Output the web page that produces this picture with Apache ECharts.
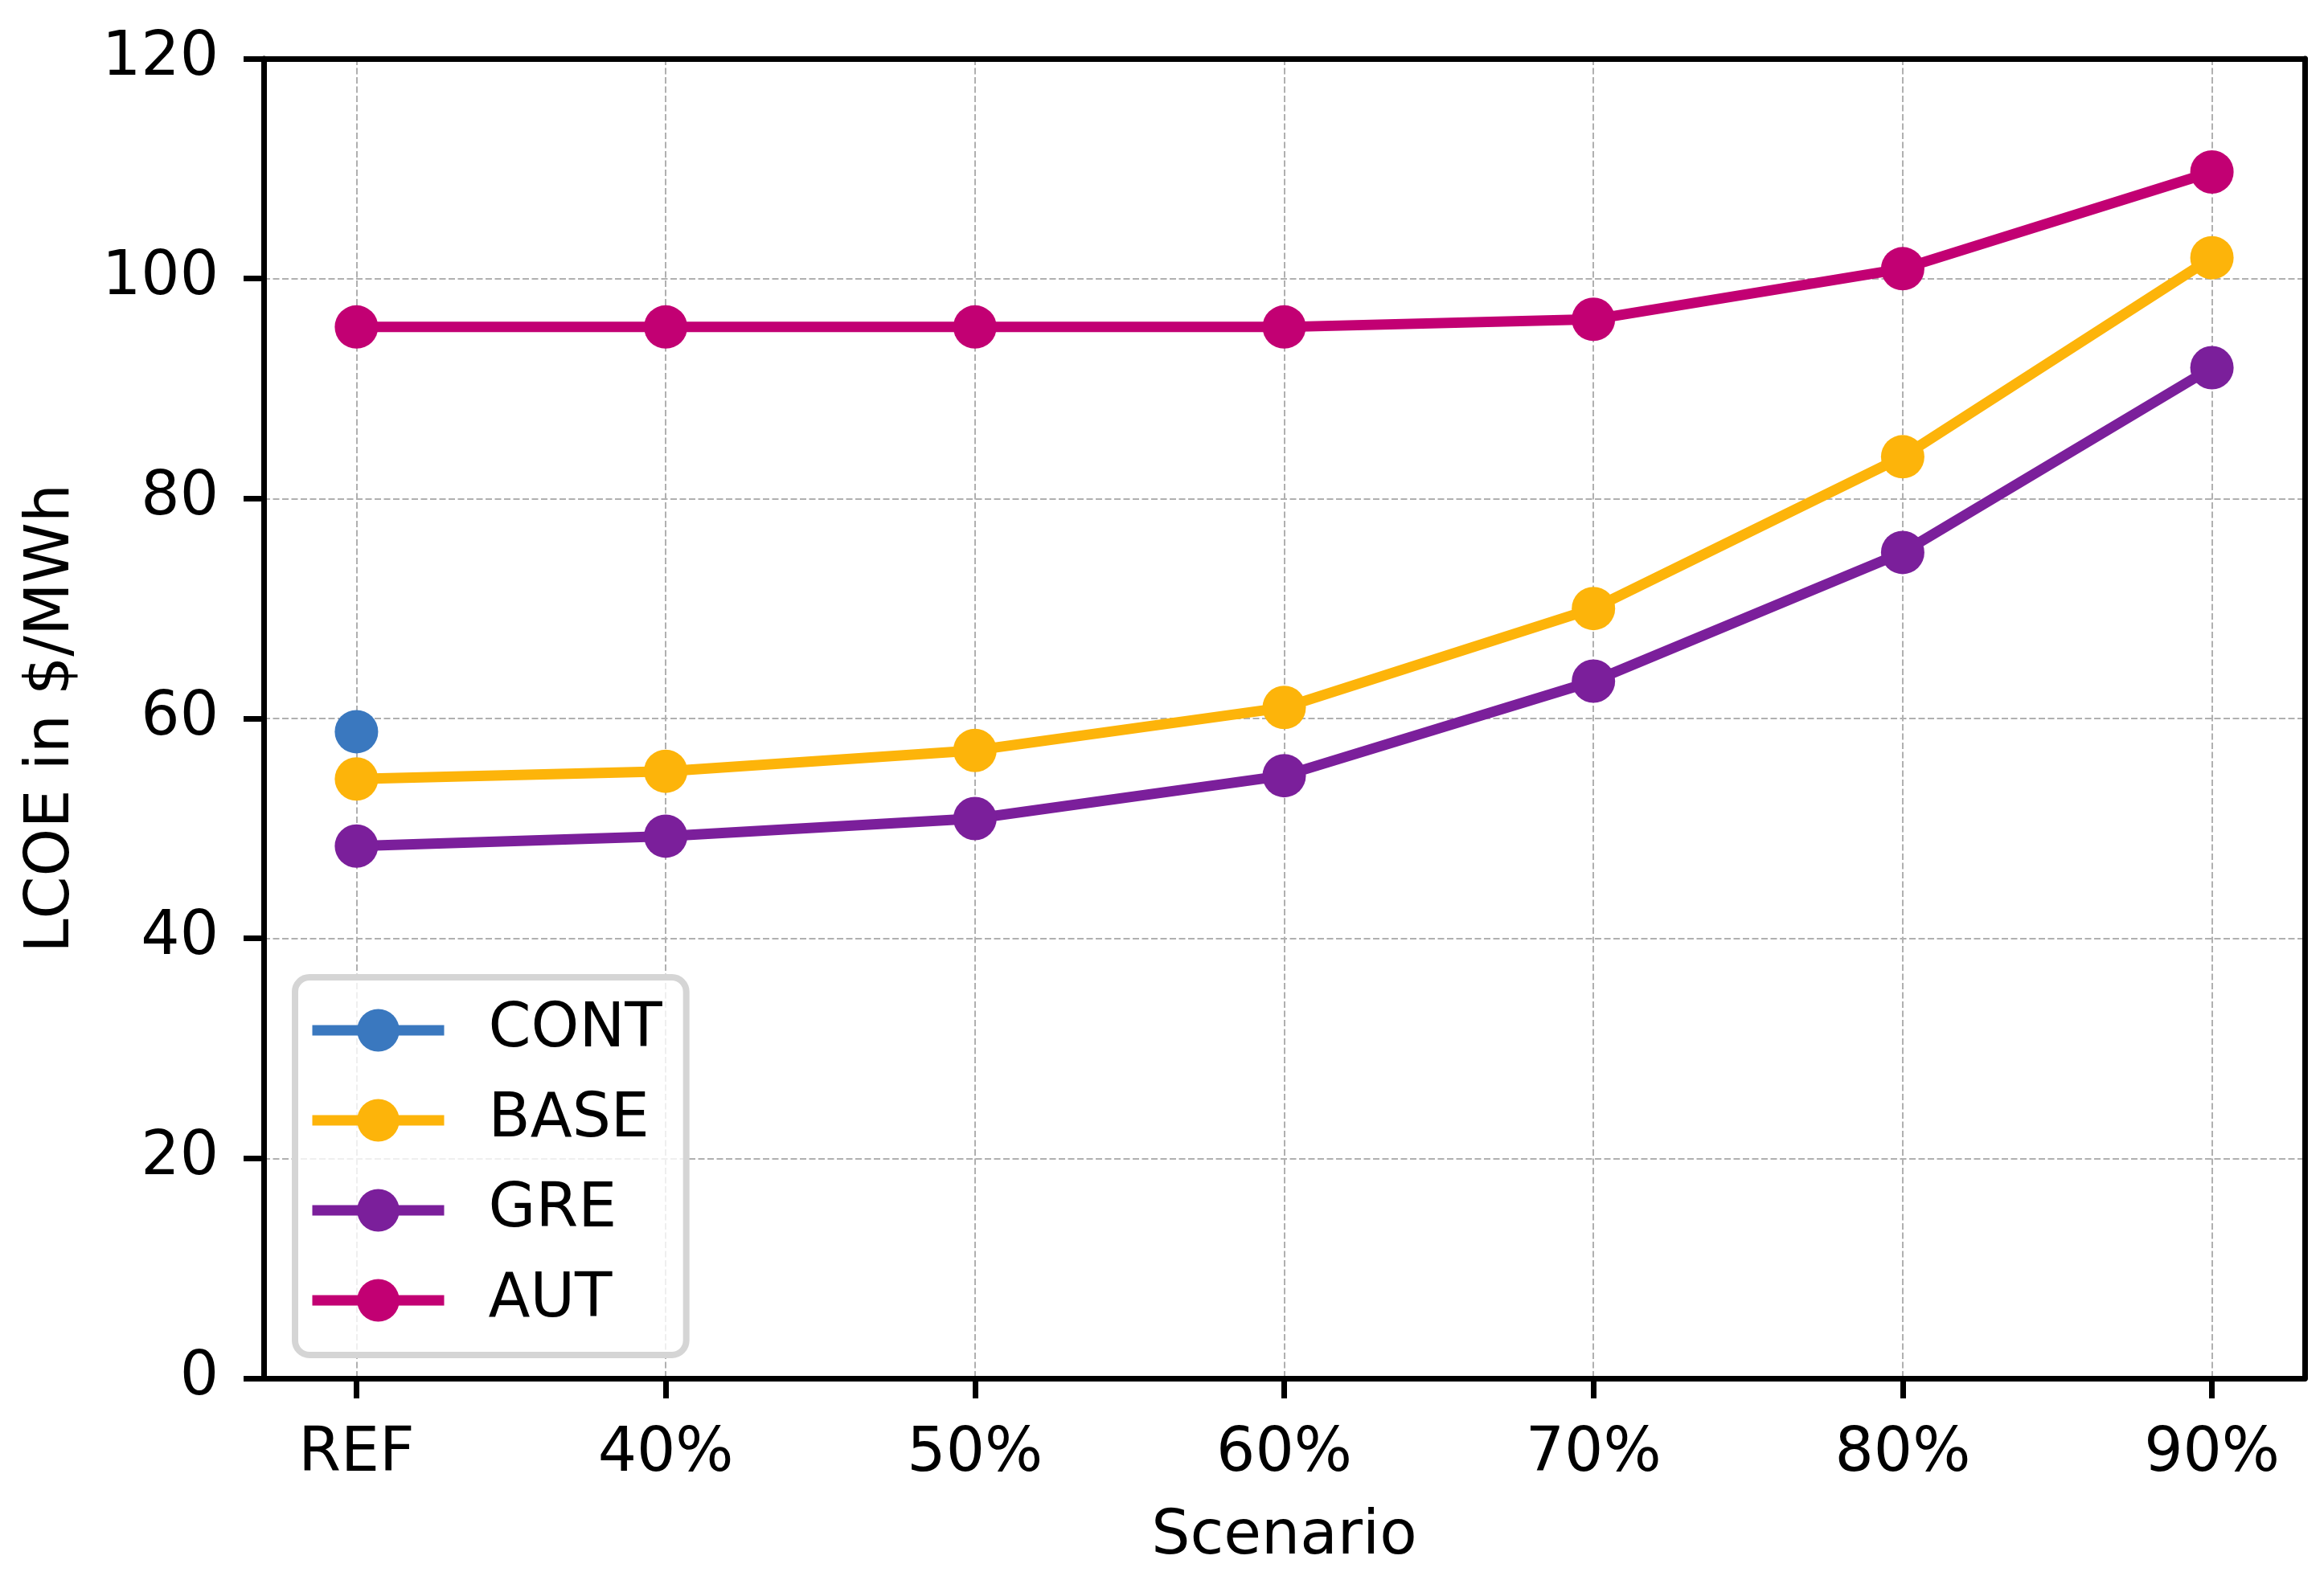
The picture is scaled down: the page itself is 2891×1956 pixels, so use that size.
<!DOCTYPE html>
<html>
<head>
<meta charset="utf-8">
<script src="https://cdn.jsdelivr.net/npm/echarts@6/dist/echarts.min.js"></script>
<style>
html,body{margin:0;padding:0;background:#fff;}
#chart{width:2891px;height:1956px;}
</style>
</head>
<body>
<div id="chart"></div>
<script>
const categories = ['REF', '40%', '50%', '60%', '70%', '80%', '90%'];
const yTicks = [0, 20, 40, 60, 80, 100, 120];
const seriesNames = ['CONT', 'BASE', 'GRE', 'AUT'];
const seriesColors = ['#3a78bf', '#fdb40a', '#7b1f9b', '#c20073'];
const contValues = [58.8, null, null, null, null, null, null];
const baseValues = [54.5, 55.2, 57.1, 61.0, 70.0, 83.8, 101.9];
const greValues = [48.4, 49.3, 50.9, 54.8, 63.4, 75.1, 91.9];
const autValues = [95.6, 95.6, 95.6, 95.6, 96.3, 100.9, 109.7];

const allValues = [contValues, baseValues, greValues, autValues];
const catIdx = categories.map((c, i) => i);
const FONT = 'DejaVu Sans';
const FS = 76;

function toPairs(vals) {
  return vals.map((v, i) => (v === null ? null : [i, v])).filter(p => p !== null);
}

const chart = echarts.init(document.getElementById('chart'), null, {renderer: 'canvas'});
const spine = {show: true, onZero: false, lineStyle: {color: '#000', width: 7}};
const grid = {type: [8, 3.5], color: '#b0b0b0', width: 2};

chart.setOption({
  backgroundColor: '#fff',
  animation: false,
  grid: {left: 328, right: 24, top: 73, bottom: 232, containLabel: false},
  legend: {
    data: seriesNames,
    orient: 'vertical',
    left: 367,
    top: 1216,
    itemWidth: 164,
    itemHeight: 66,
    itemGap: 36,
    padding: [28, 30, 30, 15],
    backgroundColor: 'rgba(255,255,255,0.8)',
    borderColor: '#d5d5d5',
    borderWidth: 8,
    borderRadius: 18,
    lineStyle: {width: 13},
    textStyle: {fontFamily: FONT, fontSize: FS, color: '#000', padding: [0, 0, 0, 50]}
  },
  xAxis: [{
    type: 'value',
    min: -0.3,
    max: 6.3,
    name: 'Scenario',
    nameLocation: 'middle',
    nameGap: 160,
    nameTextStyle: {fontFamily: FONT, fontSize: FS, color: '#000'},
    axisLine: spine,
    axisTick: {show: true, customValues: catIdx, length: 25, lineStyle: {color: '#000', width: 7}},
    axisLabel: {customValues: catIdx, formatter: v => categories[Math.round(v)], fontFamily: FONT, fontSize: FS, color: '#000', margin: 57},
    splitLine: {show: true, lineStyle: grid}
  }, {
    type: 'value', position: 'top', min: -0.3, max: 6.3,
    axisLine: spine, axisTick: {show: false}, axisLabel: {show: false}, splitLine: {show: false}
  }],
  yAxis: [{
    type: 'value',
    min: 0,
    max: 120,
    interval: 20,
    name: 'LCOE in $/MWh',
    nameLocation: 'middle',
    nameGap: 225,
    nameTextStyle: {fontFamily: FONT, fontSize: FS, color: '#000'},
    axisLine: spine,
    axisTick: {show: true, length: 25, lineStyle: {color: '#000', width: 7}},
    axisLabel: {formatter: v => (yTicks.includes(v) ? String(v) : ''), fontFamily: FONT, fontSize: FS, color: '#000', margin: 56},
    splitLine: {show: true, lineStyle: grid}
  }, {
    type: 'value', position: 'right', min: 0, max: 120,
    axisLine: spine, axisTick: {show: false}, axisLabel: {show: false}, splitLine: {show: false}
  }],
  series: seriesNames.map((name, k) => ({
    name: name,
    type: 'line',
    data: toPairs(allValues[k]),
    xAxisIndex: 0,
    yAxisIndex: 0,
    symbol: 'circle',
    symbolSize: 54,
    showAllSymbol: true,
    color: seriesColors[k],
    lineStyle: {width: 13, color: seriesColors[k]},
    itemStyle: {color: seriesColors[k]},
    z: 3 + k
  }))
});
</script>
</body>
</html>
